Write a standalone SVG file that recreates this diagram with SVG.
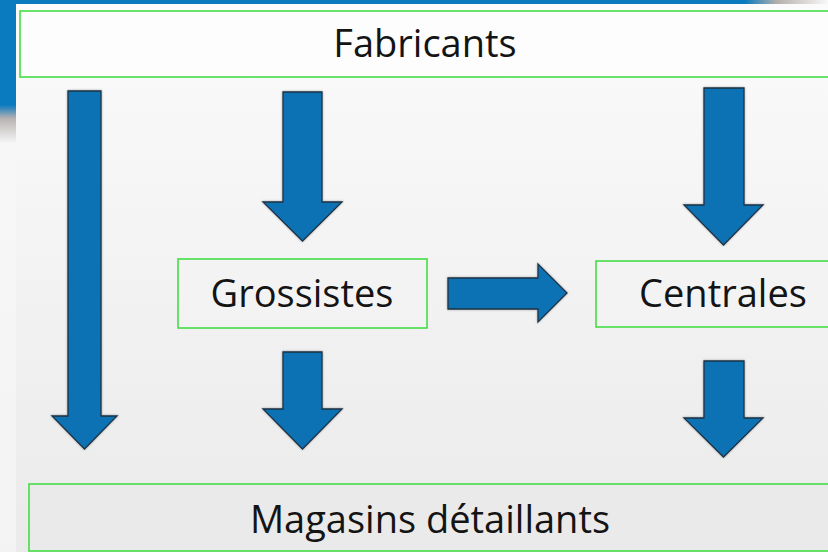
<svg xmlns="http://www.w3.org/2000/svg" width="828" height="552" viewBox="0 0 828 552">
  <defs>
    <linearGradient id="panel" x1="0" y1="0" x2="0" y2="1">
      <stop offset="0" stop-color="#fbfbfb"/>
      <stop offset="1" stop-color="#eaeaea"/>
    </linearGradient>
    <linearGradient id="topstrip" x1="0" y1="0" x2="1" y2="0">
      <stop offset="0" stop-color="#0b7bbf"/>
      <stop offset="0.9" stop-color="#0b7bbf"/>
      <stop offset="0.94" stop-color="#b8b2ad"/>
      <stop offset="1" stop-color="#f8f8f8"/>
    </linearGradient>
    <linearGradient id="leftstrip" x1="0" y1="0" x2="0" y2="1">
      <stop offset="0" stop-color="#0b7bbf"/>
      <stop offset="0.19" stop-color="#0b7bbf"/>
      <stop offset="0.215" stop-color="#b9b3b3"/>
      <stop offset="0.26" stop-color="#f7f7f7"/>
      <stop offset="1" stop-color="#f3f3f3"/>
    </linearGradient>
    <filter id="sh" x="-20%" y="-20%" width="140%" height="140%">
      <feDropShadow dx="0" dy="0" stdDeviation="1" flood-color="#000" flood-opacity="0.35"/>
    </filter>
  </defs>
  <style>
    .box { stroke: #45dc45; stroke-width: 1.6; }
    .lbl { font-family: "Open Sans", "Liberation Sans", sans-serif; font-size: 38px; fill: #141414; text-anchor: middle; }
    .arr { fill: #0a72b4; stroke: #1e3346; stroke-width: 1.3; stroke-linejoin: miter; filter: url(#sh); }
  </style>

  <!-- background -->
  <rect x="0" y="0" width="828" height="552" fill="#f6f6f6"/>
  <rect x="0" y="0" width="828" height="4" fill="url(#topstrip)"/>
  <rect x="0" y="0" width="16" height="552" fill="url(#leftstrip)"/>
  <rect x="16" y="4" width="812" height="548" fill="url(#panel)"/>

  <g id="fabricants">
    <rect class="box" x="20" y="11" width="812" height="66" fill="#fdfdfd" stroke-width="2.2"/>
    <text class="lbl" x="425" y="57">Fabricants</text>
  </g>

  <g id="grossistes">
    <rect class="box" x="178" y="259" width="249" height="69" fill="#f3f3f3"/>
    <text class="lbl" x="302" y="307">Grossistes</text>
  </g>

  <g id="centrales">
    <rect class="box" x="596" y="261" width="240" height="66" fill="#f3f3f3"/>
    <text class="lbl" x="723" y="307">Centrales</text>
  </g>

  <g id="magasins">
    <rect class="box" x="29" y="484" width="810" height="67" fill="#eaeaea"/>
    <text class="lbl" x="430" y="533">Magasins détaillants</text>
  </g>

  <g id="connectors">
    <path class="arr" d="M68,91 H101 V416 H117 L84.5,449 L52,416 H68 Z"/>
    <path class="arr" d="M283,92 H322 V202 H342 L302.5,241 L263,202 H283 Z"/>
    <path class="arr" d="M704,88 H744 V205 H763 L723.5,245 L684,205 H704 Z"/>
    <path class="arr" d="M283,352 H322 V409 H342 L302.5,449 L263,409 H283 Z"/>
    <path class="arr" d="M704,361 H744 V418 H763 L723.5,457 L684,418 H704 Z"/>
    <path class="arr" d="M448,278 H538 V264 L567,293 L538,322 V309 H448 Z"/>
  </g>
</svg>
